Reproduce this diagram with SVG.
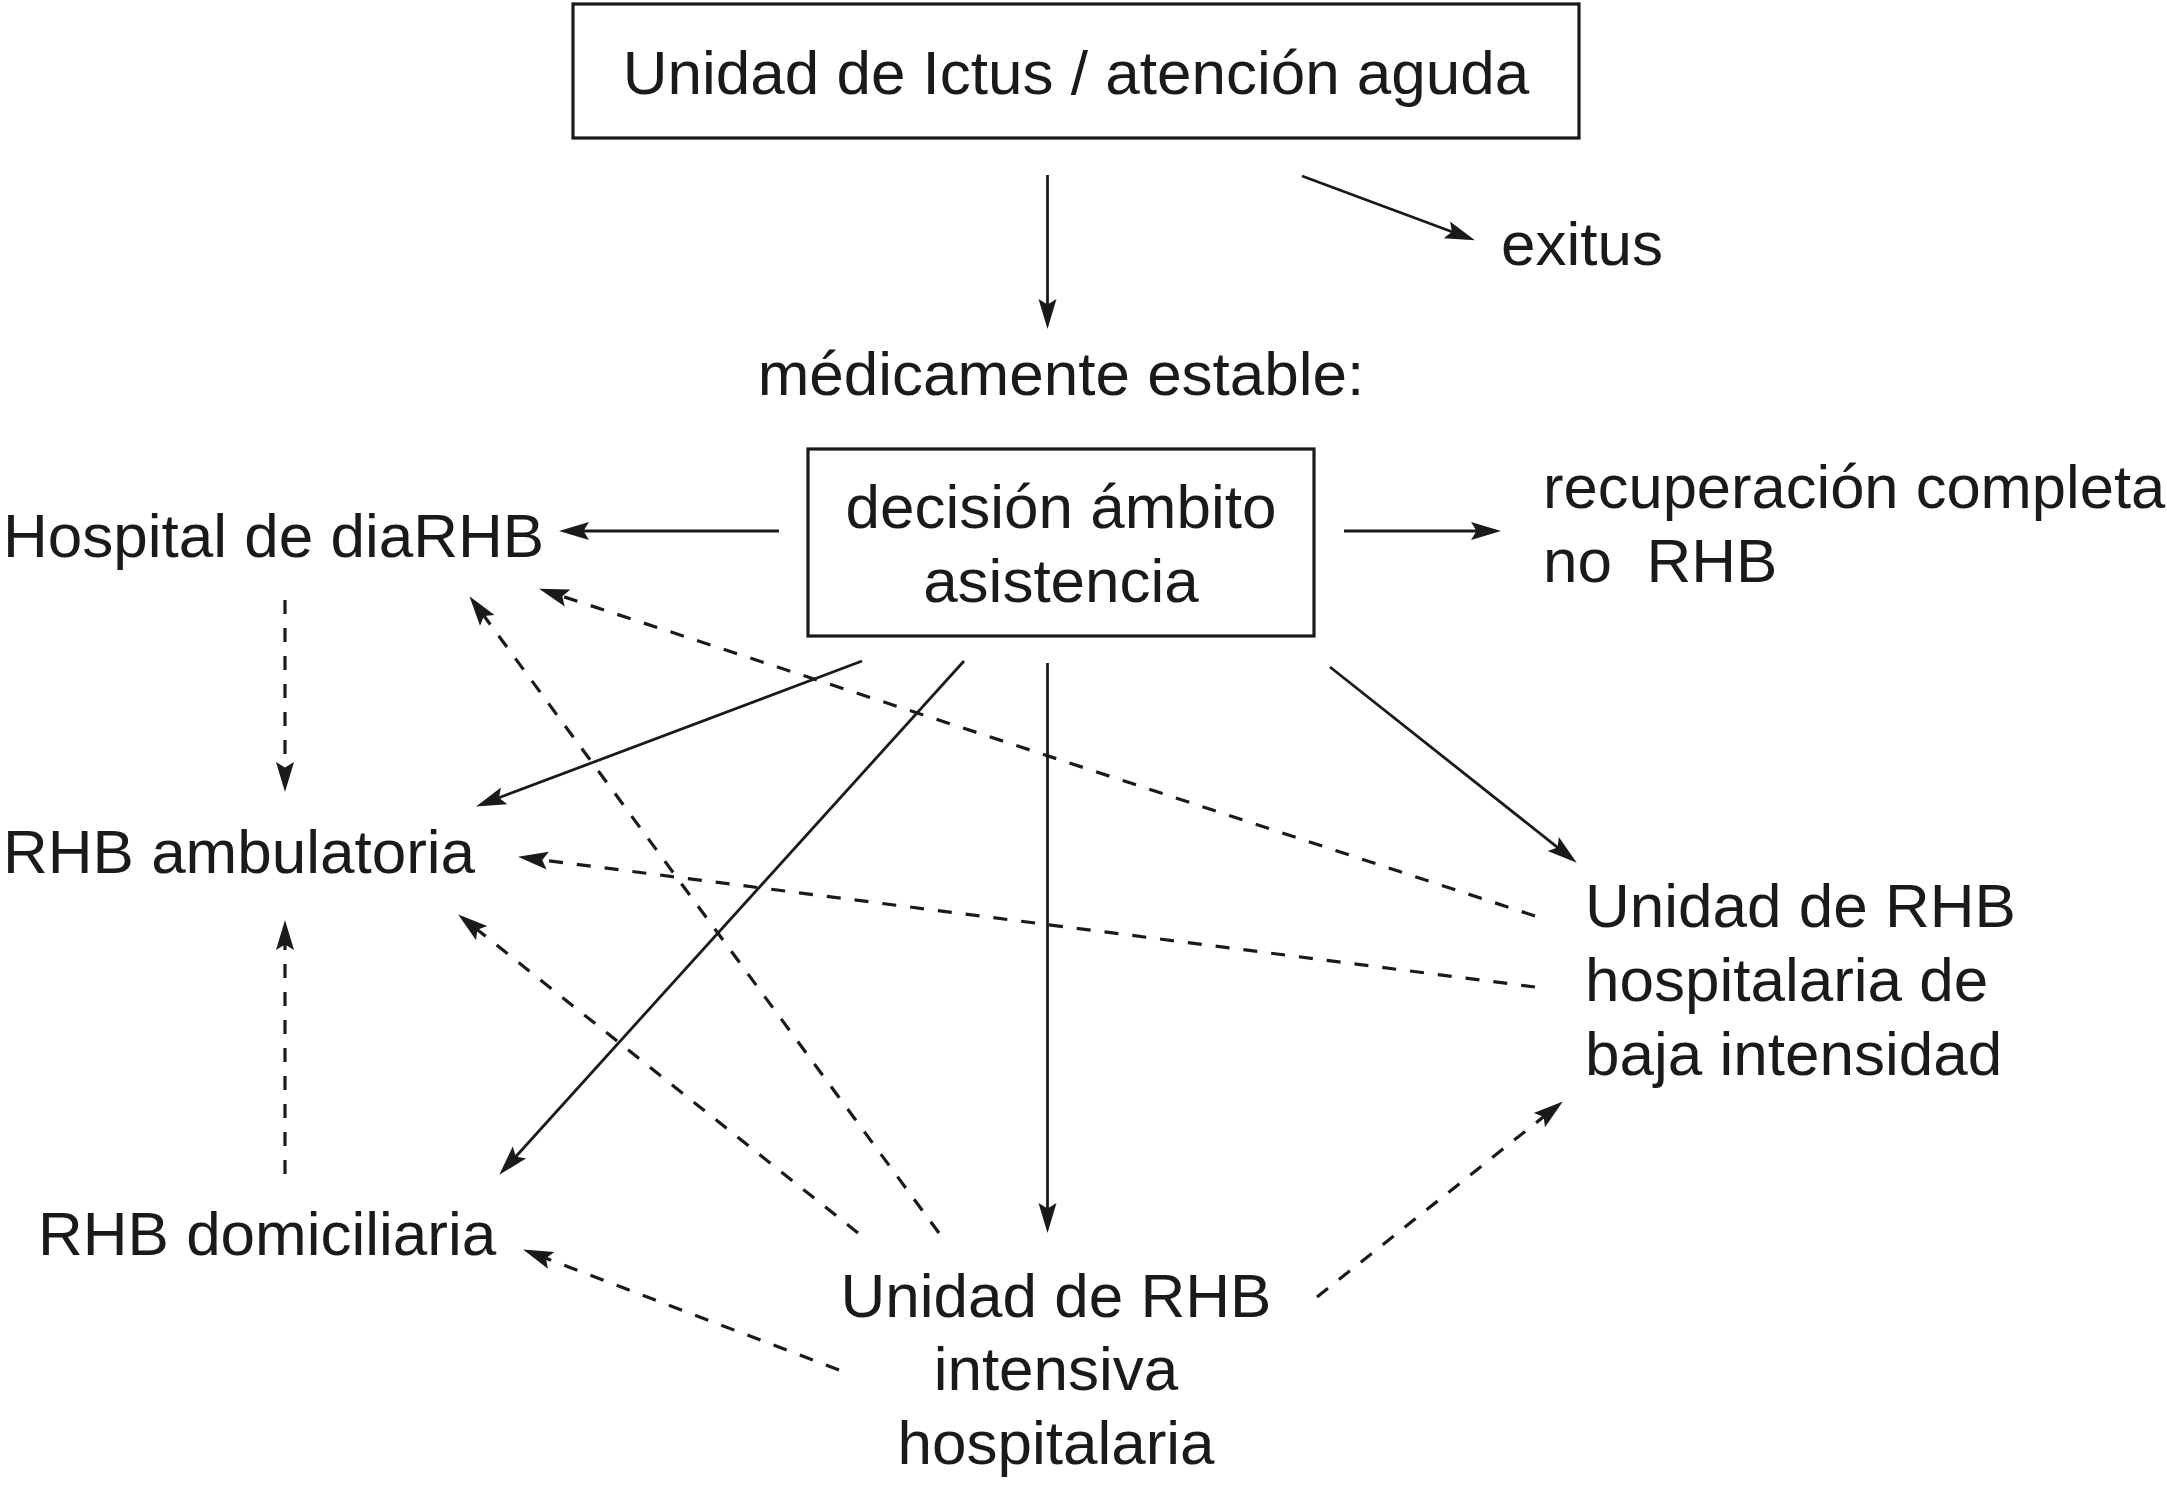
<svg xmlns="http://www.w3.org/2000/svg" width="2167" height="1485" viewBox="0 0 2167 1485">
  <style>
    .t { font-family: "Liberation Sans", Arial, Helvetica, sans-serif; font-size: 62px; fill: #1a1a1a; }
    .c { text-anchor: middle; }
    .box { fill: #ffffff; stroke: #1a1a1a; stroke-width: 3.2; }
    .s { stroke: #1a1a1a; stroke-width: 2.8; fill: none; marker-end: url(#ah); }
    .d { stroke: #1a1a1a; stroke-width: 3.2; fill: none; stroke-dasharray: 14 14; marker-end: url(#ah); }
  </style>
  <defs>
    <marker id="ah" markerUnits="userSpaceOnUse" markerWidth="34" markerHeight="22" viewBox="-11 -11 34 22" refX="0" refY="0" orient="auto">
      <path d="M21,0 L-9,-9 L-3.5,0 L-9,9 Z" fill="#1a1a1a"/>
    </marker>
  </defs>
  <rect width="2167" height="1485" fill="#ffffff"/>

  <g id="connectors">
    <line class="s" x1="1047.5" y1="175" x2="1047.5" y2="308"/>
    <line class="s" x1="1302" y1="176" x2="1455.3" y2="233"/>
    <line class="s" x1="779" y1="531" x2="580" y2="531"/>
    <line class="s" x1="1344" y1="531" x2="1480" y2="531"/>
    <line class="s" x1="862" y1="661" x2="495.7" y2="799"/>
    <line class="s" x1="964" y1="661" x2="513.4" y2="1159.2"/>
    <line class="s" x1="1047.5" y1="663" x2="1047.5" y2="1212"/>
    <line class="s" x1="1330" y1="667" x2="1560.3" y2="849.6"/>
    <line class="d" x1="285" y1="600" x2="285" y2="771"/>
    <line class="d" x1="285" y1="1174" x2="285" y2="941"/>
    <line class="d" x1="1535" y1="916" x2="559" y2="595.2"/>
    <line class="d" x1="1535" y1="987" x2="538.8" y2="859.5"/>
    <line class="d" x1="939" y1="1233" x2="481.9" y2="613.1"/>
    <line class="d" x1="858" y1="1233" x2="474.6" y2="927.5"/>
    <line class="d" x1="839" y1="1370" x2="542.7" y2="1257.1"/>
    <line class="d" x1="1317" y1="1297" x2="1546.4" y2="1114.5"/>
  </g>

  <g id="unidad-ictus">
    <rect class="box" x="573" y="4" width="1006" height="134"/>
    <text class="t c" x="1076" y="94">Unidad de Ictus / atención aguda</text>
  </g>
  <g id="exitus">
    <text class="t" x="1501" y="265">exitus</text>
  </g>
  <g id="medicamente-estable">
    <text class="t c" x="1061" y="395">médicamente estable:</text>
  </g>
  <g id="decision">
    <rect class="box" x="808" y="449" width="506" height="187"/>
    <text class="t c" x="1061" y="528">decisión ámbito</text>
    <text class="t c" x="1061" y="602">asistencia</text>
  </g>
  <g id="hospital-dia">
    <text class="t" x="3" y="557">Hospital de diaRHB</text>
  </g>
  <g id="recuperacion">
    <text class="t" x="1543" y="508" style="font-size:61.5px">recuperación completa</text>
    <text class="t" x="1543" y="582" xml:space="preserve">no  RHB</text>
  </g>
  <g id="rhb-ambulatoria">
    <text class="t" x="3" y="873">RHB ambulatoria</text>
  </g>
  <g id="rhb-domiciliaria">
    <text class="t" x="38" y="1255">RHB domiciliaria</text>
  </g>
  <g id="unidad-baja">
    <text class="t" x="1585" y="927">Unidad de RHB</text>
    <text class="t" x="1585" y="1001">hospitalaria de</text>
    <text class="t" x="1585" y="1075">baja intensidad</text>
  </g>
  <g id="unidad-intensiva">
    <text class="t c" x="1056" y="1317">Unidad de RHB</text>
    <text class="t c" x="1056" y="1390">intensiva</text>
    <text class="t c" x="1056" y="1464">hospitalaria</text>
  </g>
</svg>
